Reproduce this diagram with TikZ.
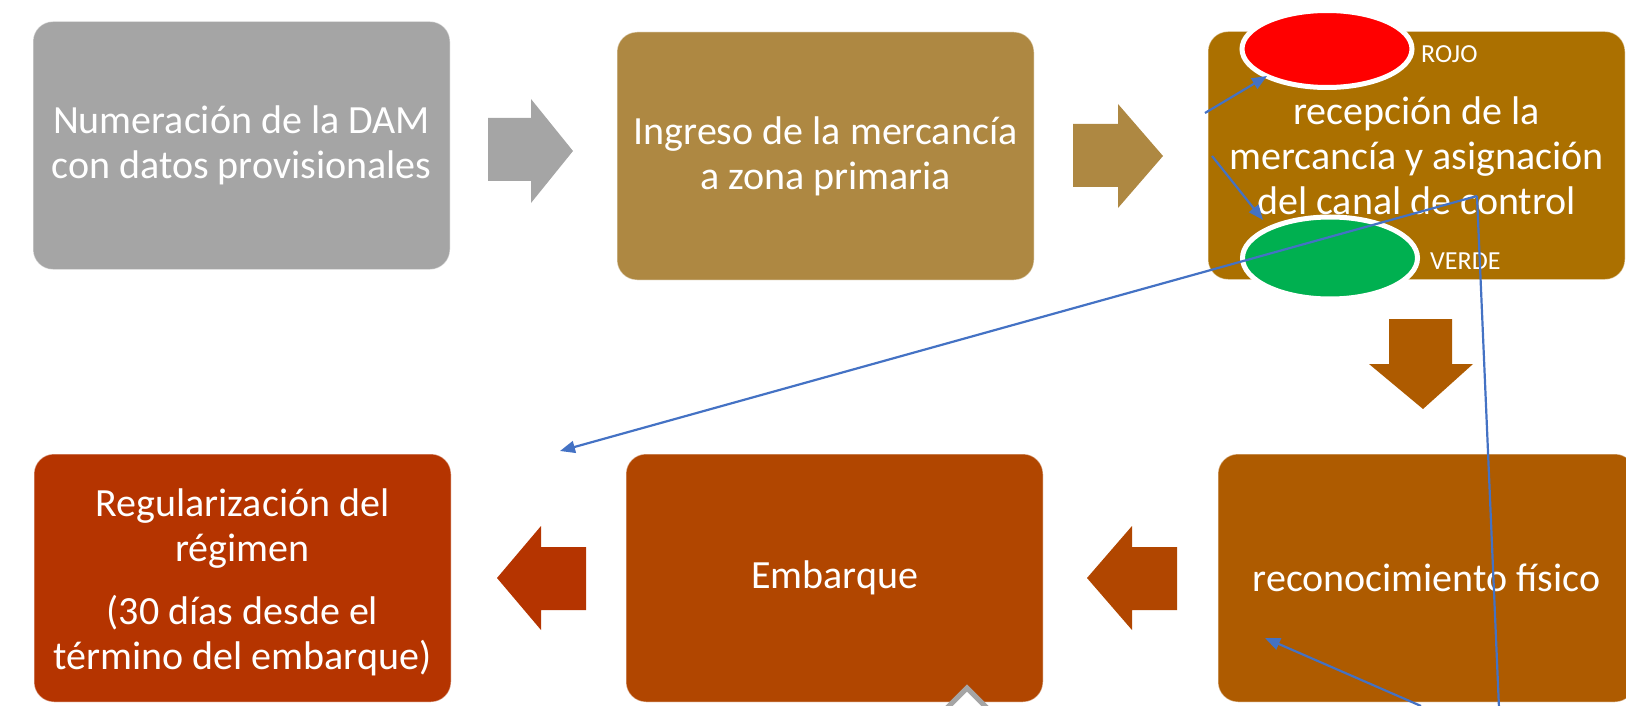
\documentclass[tikz,border=0pt]{standalone}
\usepackage{fontspec}
\setmainfont{Carlito}
\usetikzlibrary{shapes.geometric,arrows.meta}
\definecolor{cgrey}{HTML}{A5A5A5}
\definecolor{cgold}{HTML}{AE8842}
\definecolor{cochre}{HTML}{AB7000}
\definecolor{crecon}{HTML}{AE5B00}
\definecolor{cemb}{HTML}{B14600}
\definecolor{creg}{HTML}{B53400}
\definecolor{cblue}{HTML}{4472C4}
\definecolor{cred}{HTML}{FF0000}
\definecolor{cgreen}{HTML}{00B050}
\tikzset{
  boxtext/.style={text=white, align=center, inner sep=0pt, font=\fontsize{40}{45}\selectfont},
  stepbox/.style={boxtext, rounded corners=20pt, minimum width=417pt, minimum height=248pt,
    draw=white, draw opacity=0.45, line width=1pt},
  signal/.style={ellipse, draw=white, line width=5pt},
  siglabel/.style={anchor=base west, text=white, inner sep=0pt, font=\fontsize{26}{30}\selectfont},
  link/.style={cblue, line width=2.2pt, -{Triangle[length=15pt,width=12pt]}},
  plainlink/.style={cblue, line width=2.2pt},
}
\begin{document}
\begin{tikzpicture}[x=1pt,y=-1pt]
\useasboundingbox (0,0) rectangle (1626,706);
% boxes
\node[stepbox, fill=cgrey] (b1) at (241.5,145.5) {Numeración de la DAM\\con datos provisionales};
\node[stepbox, fill=cgold] (b2) at (825.5,156) {Ingreso de la mercancía\\a zona primaria};
\node[stepbox, fill=cochre] (b3) at (1416.5,155.5) {recepción de la\\mercancía y asignación\\del canal de control};
\node[stepbox, fill=crecon] (b4) at (1426.5,578) {reconocimiento físico};
\node[stepbox, fill=cemb] (b5) at (834.5,578) {Embarque};
\node[stepbox, fill=creg] (b6) at (242.5,578) {};
\node[boxtext] (b6text) at ([yshift=-4pt]b6.center) {Regularización del\\régimen\\[18pt](30 días desde el\\término del embarque)};
% block arrows
\fill[cgrey] (488,118) -- (531,118) -- (531,99) -- (573,151) -- (531,203) -- (531,181) -- (488,181) -- cycle;
\fill[cgold] (1073,124) -- (1118,124) -- (1118,104) -- (1163,156) -- (1118,208) -- (1118,187) -- (1073,187) -- cycle;
\fill[crecon] (1389,319) -- (1452,319) -- (1452,364) -- (1473,364) -- (1423,409) -- (1369,364) -- (1389,364) -- cycle;
\fill[cemb] (1177,547) -- (1132,547) -- (1132,526) -- (1087,578) -- (1132,630) -- (1132,610) -- (1177,610) -- cycle;
\fill[creg] (586,547) -- (541,547) -- (541,526) -- (497,578) -- (541,630) -- (541,610) -- (586,610) -- cycle;
% signals
\node[signal, fill=cred, minimum width=170pt, minimum height=77pt] (red) at (1327,49) {};
\node[signal, fill=cgreen, minimum width=175pt, minimum height=82pt] (green) at (1330,258) {};
\node[siglabel] (rojo) at (1421,63) {ROJO};
\node[siglabel] (verde) at (1430,269) {VERDE};
% connectors
\coordinate (s1) at (1205,113);
\coordinate (e1) at (1267,76);
\coordinate (s2) at (1212,156);
\coordinate (e2) at (1263,220);
\coordinate (hub) at (1477,196);
\coordinate (e3) at (560,451);
\coordinate (down) at (1499,708);
\coordinate (s4) at (1421,706);
\coordinate (e4) at (1265,638);
\draw[link] (s1) -- (e1);
\draw[link] (s2) -- (e2);
\draw[link] (hub) -- (e3);
\draw[plainlink] (hub) -- (down);
\draw[link] (s4) -- (e4);
% grey chevron at bottom of Embarque
\coordinate (cl) at (945,710);
\coordinate (ca) at (967,688);
\coordinate (cr) at (989,710);
\draw[cgrey, line width=5pt, fill=white] (cl) -- (ca) -- (cr);
\end{tikzpicture}
\end{document}
